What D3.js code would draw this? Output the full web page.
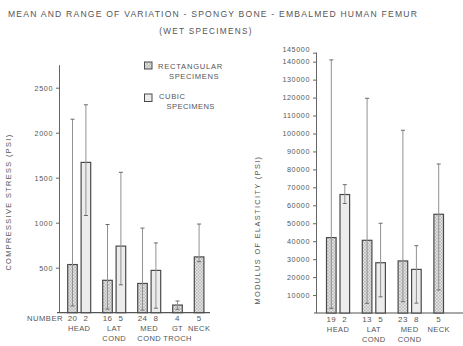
<!DOCTYPE html>
<html>
<head>
<meta charset="utf-8">
<script src="https://cdn.jsdelivr.net/npm/d3@7"></script>
<style>
  html, body { margin: 0; padding: 0; background: #fff; }
  svg text { font-family: "Liberation Sans", Arial, sans-serif; fill: #555; }
</style>
</head>
<body>
<svg id="chart" width="463" height="346"></svg>
<script>
// Compressive stress (psi), one entry per bar
const stressGroups = ["HEAD", "HEAD", "LAT COND", "LAT COND", "MED COND", "MED COND", "GT TROCH", "NECK"];
const stressTypes  = ["rect", "cubic", "rect", "cubic", "rect", "cubic", "rect", "rect"];
const stressN      = [20, 2, 16, 5, 24, 8, 4, 5];
const stressMean   = [535, 1670, 360, 740, 325, 470, 85, 620];
const stressLow    = [75, 1080, 40, 310, 30, 50, 38, 567];
const stressHigh   = [2150, 2310, 980, 1560, 940, 775, 130, 985];
const stressTicks  = [500, 1000, 1500, 2000, 2500];

// Modulus of elasticity (psi), one entry per bar
const modGroups = ["HEAD", "HEAD", "LAT COND", "LAT COND", "MED COND", "MED COND", "NECK"];
const modTypes  = ["rect", "cubic", "rect", "cubic", "rect", "cubic", "rect"];
const modN      = [19, 2, 13, 5, 23, 8, 5];
const modMean   = [42000, 66000, 40500, 28000, 29000, 24300, 55000];
const modLow    = [2600, 61000, 5400, 9000, 6300, 5500, 12800];
const modHigh   = [141000, 71500, 119600, 50000, 101800, 37500, 83000];
const modTicks  = [10000, 20000, 30000, 40000, 50000, 60000, 70000, 80000, 90000,
                   100000, 110000, 120000, 130000, 140000, 145000];

const svg = d3.select("#chart");

// hatching for rectangular specimens
const defs = svg.append("defs");
const pat = defs.append("pattern")
  .attr("id", "hatch").attr("patternUnits", "userSpaceOnUse")
  .attr("width", 3.2).attr("height", 3.2);
pat.append("rect").attr("width", 3.2).attr("height", 3.2).attr("fill", "#e9e9e9");
pat.append("path").attr("d", "M0,0 L3.2,3.2 M3.2,0 L0,3.2")
  .attr("stroke", "#a2a2a2").attr("stroke-width", 0.55);

const cubicFill = "#ececec";
const barStroke = "#4a4a4a";
const whiskerColor = "#929292";

// Title
svg.append("text").attr("x", 8).attr("y", 16.5)
  .attr("font-size", 8.6).attr("letter-spacing", 1.2)
  .text("MEAN AND RANGE OF VARIATION - SPONGY BONE - EMBALMED HUMAN FEMUR");
svg.append("text").attr("x", 206).attr("y", 33.5).attr("text-anchor", "middle")
  .attr("font-size", 8.2).attr("letter-spacing", 1.3)
  .text("(WET SPECIMENS)");

// Lay bars out by slot: pairs share a group, groups separated by a gap
function slotLayout(groups, slot, gap, start) {
  let pos = [], g = 0;
  groups.forEach((grp, i) => {
    if (i > 0 && grp !== groups[i - 1]) g++;
    pos.push(start + i * slot + g * gap);
  });
  return pos;
}

function drawPanel(cfg) {
  const { groups, types, n, mean, low, high, ticks, y, axisX, xEnd, slot, gap, start,
          barW, title, titleX, titleY, topTickLift } = cfg;
  const centers = slotLayout(groups, slot, gap, start);
  const g = svg.append("g");

  // y axis
  const axis = d3.axisLeft(y).tickValues(ticks).tickSize(4).tickPadding(3)
    .tickFormat(d3.format("d"));
  const ax = g.append("g").attr("transform", `translate(${axisX},0)`).call(axis);
  ax.select(".domain").attr("stroke", "#666").attr("stroke-width", 1)
    .attr("d", `M-0.5,${y.range()[1]}V${y(0)}`);
  ax.selectAll(".tick line").attr("stroke", "#666");
  ax.selectAll(".tick text").attr("font-size", 7.2).attr("letter-spacing", 0.6)
    .attr("fill", "#555").attr("font-family", "Liberation Sans, Arial, sans-serif");
  if (topTickLift) {
    // keep the top label clear of the one below it
    const top = d3.max(ticks);
    ax.selectAll(".tick").filter(d => d === top).select("text")
      .attr("transform", `translate(0,${-topTickLift})`);
  }

  // baseline
  g.append("line").attr("x1", axisX - 3).attr("x2", xEnd)
    .attr("y1", y(0)).attr("y2", y(0)).attr("stroke", "#555").attr("stroke-width", 1.2);

  const data = mean.map((m, i) => ({
    group: groups[i], type: types[i], n: n[i], mean: m, low: low[i], high: high[i], cx: centers[i]
  }));

  // bars
  g.selectAll("rect.bar").data(data).join("rect").attr("class", "bar")
    .attr("x", d => d.cx - barW / 2).attr("width", barW)
    .attr("y", d => y(d.mean)).attr("height", d => y(0) - y(d.mean))
    .attr("fill", d => d.type === "rect" ? "url(#hatch)" : cubicFill)
    .attr("stroke", barStroke).attr("stroke-width", 1.2);

  // range whiskers
  g.selectAll("line.wh").data(data).join("line").attr("class", "wh")
    .attr("x1", d => d.cx).attr("x2", d => d.cx)
    .attr("y1", d => y(d.low)).attr("y2", d => y(d.high))
    .attr("stroke", whiskerColor).attr("stroke-width", 1);
  ["high", "low"].forEach(k => {
    g.selectAll("line.cap-" + k).data(data).join("line").attr("class", "cap-" + k)
      .attr("x1", d => d.cx - 2).attr("x2", d => d.cx + 2)
      .attr("y1", d => y(d[k])).attr("y2", d => y(d[k]))
      .attr("stroke", "#6a6a6a").attr("stroke-width", 1);
  });

  // specimen counts
  g.selectAll("text.n").data(data).join("text").attr("class", "n")
    .attr("x", d => d.cx).attr("y", y(0) + 8.5).attr("text-anchor", "middle")
    .attr("font-size", 8).attr("letter-spacing", 0.4).text(d => d.n);

  // group names under each group
  const grpNames = Array.from(new Set(groups));
  grpNames.forEach(name => {
    const cs = data.filter(d => d.group === name).map(d => d.cx);
    const cx = d3.mean(cs);
    name.split(" ").forEach((w, j) => {
      g.append("text").attr("x", cx).attr("y", y(0) + 18.5 + j * 10)
        .attr("text-anchor", "middle").attr("font-size", 7.5).attr("letter-spacing", 0.4)
        .text(w);
    });
  });

  // axis title
  g.append("text").attr("transform", `translate(${titleX},${titleY}) rotate(-90)`)
    .attr("text-anchor", "middle").attr("font-size", 7.4).attr("letter-spacing", 1.35)
    .text(title);
  return data;
}

// left panel: compressive stress
const yStress = d3.scaleLinear().domain([0, 2750]).range([312.7, 65.2]);
drawPanel({
  groups: stressGroups, types: stressTypes, n: stressN, mean: stressMean,
  low: stressLow, high: stressHigh, ticks: stressTicks, y: yStress,
  axisX: 60, xEnd: 210, slot: 13.4, gap: 8.2, start: 72.5, barW: 9.6,
  title: "COMPRESSIVE STRESS (PSI)", titleX: 10.5, titleY: 202
});
svg.append("text").attr("x", 63).attr("y", 321.2).attr("text-anchor", "end")
  .attr("font-size", 7.6).attr("letter-spacing", 0.5).text("NUMBER");

// right panel: modulus of elasticity
const yMod = d3.scaleLinear().domain([0, 145000]).range([313, 52.7]);
drawPanel({
  groups: modGroups, types: modTypes, n: modN, mean: modMean,
  low: modLow, high: modHigh, ticks: modTicks, y: yMod,
  axisX: 317, xEnd: 463, slot: 13.5, gap: 8.8, start: 331.3, barW: 9.6,
  title: "MODULUS OF ELASTICITY (PSI)", titleX: 260, titleY: 230, topTickLift: 3.5
});

// legend
const lg = svg.append("g");
lg.append("rect").attr("x", 144.5).attr("y", 62).attr("width", 7.5).attr("height", 7)
  .attr("fill", "url(#hatch)").attr("stroke", barStroke).attr("stroke-width", 1);
lg.append("text").attr("x", 158).attr("y", 69).attr("font-size", 7.6).attr("letter-spacing", 0.75)
  .text("RECTANGULAR");
lg.append("text").attr("x", 169).attr("y", 79).attr("font-size", 7.6).attr("letter-spacing", 0.6)
  .text("SPECIMENS");
lg.append("rect").attr("x", 144.5).attr("y", 94).attr("width", 7.5).attr("height", 7.5)
  .attr("fill", cubicFill).attr("stroke", barStroke).attr("stroke-width", 1);
lg.append("text").attr("x", 159).attr("y", 98.5).attr("font-size", 7.6).attr("letter-spacing", 0.6)
  .text("CUBIC");
lg.append("text").attr("x", 166.5).attr("y", 108.5).attr("font-size", 7.6).attr("letter-spacing", 0.4)
  .text("SPECIMENS");
</script>
</body>
</html>
